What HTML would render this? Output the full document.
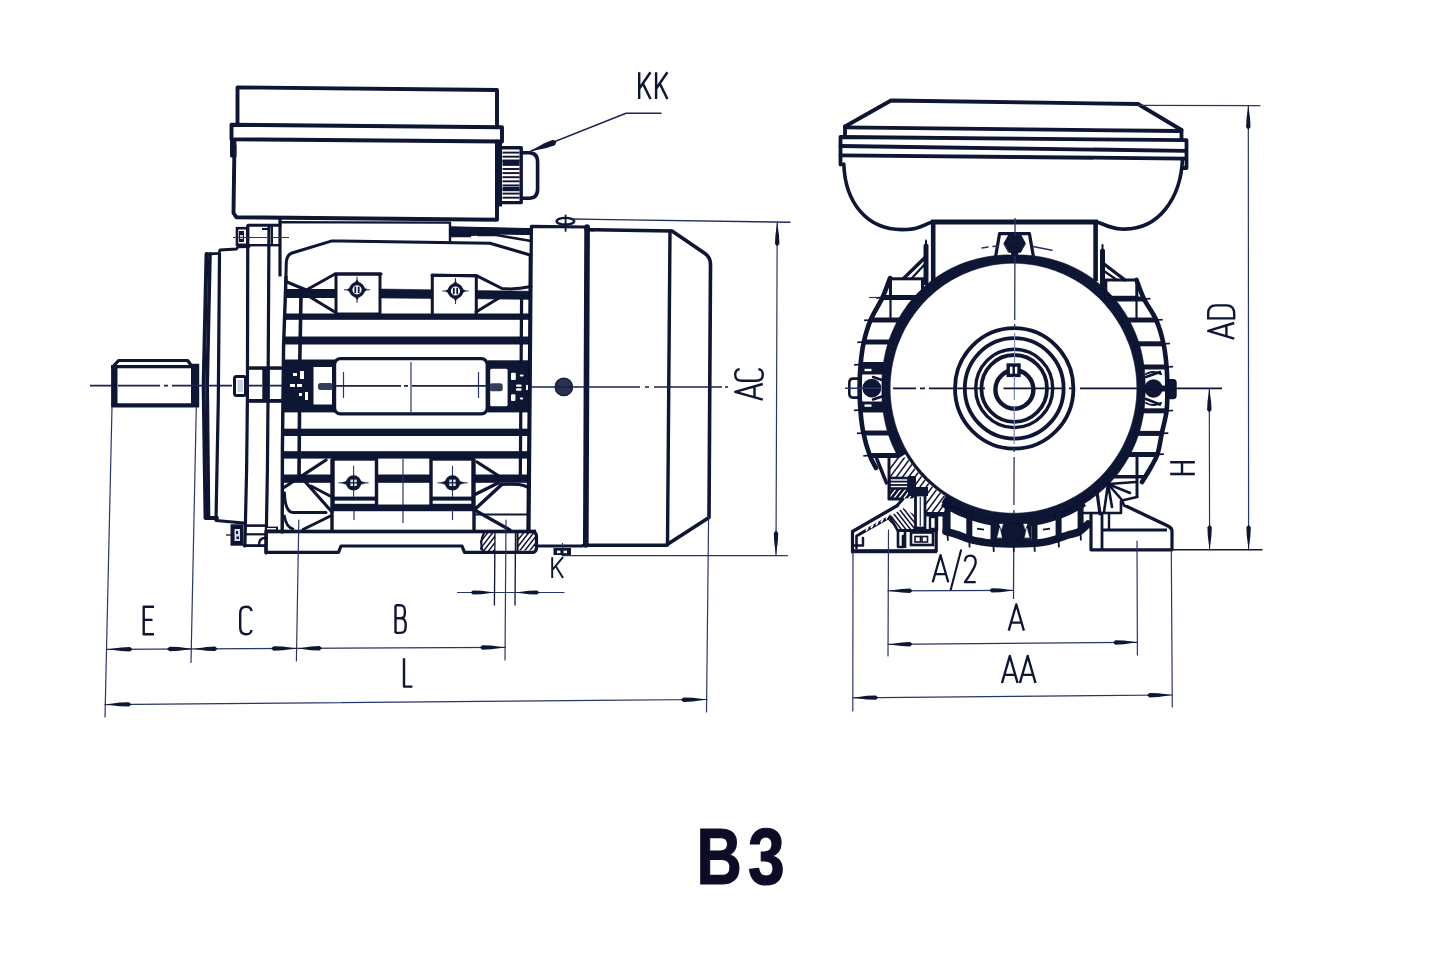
<!DOCTYPE html>
<html><head><meta charset="utf-8"><title>B3</title>
<style>
html,body{margin:0;padding:0;background:#fff;}
body{width:1445px;height:974px;overflow:hidden;font-family:"Liberation Sans",sans-serif;}
svg{display:block;}
</style></head><body>
<svg width="1445" height="974" viewBox="0 0 1445 974">
<rect x="0" y="0" width="1445" height="974" fill="#ffffff"/>
<g filter="url(#soft)">
<polyline points="237.5,125 237.5,87.4 497,90 497,127" fill="none" stroke="#0e1233" stroke-width="3.9" stroke-linejoin="round" stroke-linecap="round" />
<polygon points="231.5,124.8 502,127.2 502,141.5 231.5,139.2" fill="none" stroke="#0e1233" stroke-width="3.9" stroke-linejoin="round" stroke-linecap="round" />
<polygon points="231.5,140 231.5,156 235,156 235,146" fill="#0e1233" stroke="#0e1233" stroke-width="3" stroke-linejoin="round" stroke-linecap="round" />
<polyline points="234.5,141 233.5,213 236.5,217.3 497,219.8 497,141.5" fill="none" stroke="#0e1233" stroke-width="3.9" stroke-linejoin="round" stroke-linecap="round" />
<rect x="495" y="143" width="7" height="63.5" fill="#0e1233"/>
<path d="M502,147.8 H521.2 V202.6 H502" fill="none" stroke="#0e1233" stroke-width="3.4" stroke-linejoin="round" stroke-linecap="round" />
<line x1="502.5" y1="152.6" x2="519.5" y2="152.6" stroke="#0e1233" stroke-width="1.9" stroke-linecap="butt" />
<line x1="502.5" y1="156.7" x2="519.5" y2="156.7" stroke="#0e1233" stroke-width="1.9" stroke-linecap="butt" />
<line x1="502.5" y1="160.8" x2="519.5" y2="160.8" stroke="#0e1233" stroke-width="1.9" stroke-linecap="butt" />
<line x1="502.5" y1="164.9" x2="519.5" y2="164.9" stroke="#0e1233" stroke-width="1.9" stroke-linecap="butt" />
<line x1="502.5" y1="169" x2="519.5" y2="169" stroke="#0e1233" stroke-width="1.9" stroke-linecap="butt" />
<line x1="502.5" y1="173.1" x2="519.5" y2="173.1" stroke="#0e1233" stroke-width="1.9" stroke-linecap="butt" />
<line x1="502.5" y1="177.2" x2="519.5" y2="177.2" stroke="#0e1233" stroke-width="1.9" stroke-linecap="butt" />
<line x1="502.5" y1="181.3" x2="519.5" y2="181.3" stroke="#0e1233" stroke-width="1.9" stroke-linecap="butt" />
<line x1="502.5" y1="185.4" x2="519.5" y2="185.4" stroke="#0e1233" stroke-width="1.9" stroke-linecap="butt" />
<line x1="502.5" y1="189.5" x2="519.5" y2="189.5" stroke="#0e1233" stroke-width="1.9" stroke-linecap="butt" />
<line x1="502.5" y1="193.6" x2="519.5" y2="193.6" stroke="#0e1233" stroke-width="1.9" stroke-linecap="butt" />
<line x1="502.5" y1="197.7" x2="519.5" y2="197.7" stroke="#0e1233" stroke-width="1.9" stroke-linecap="butt" />
<rect x="502.5" y="159.6" width="17" height="4.4" fill="#0e1233"/>
<rect x="502.5" y="186.8" width="17" height="4.4" fill="#0e1233"/>
<path d="M522.6,152.7 H529 Q537.6,152.7 537.6,162 V189 Q537.6,198.2 529,198.2 H522.6" fill="none" stroke="#0e1233" stroke-width="3.6" stroke-linejoin="round" stroke-linecap="round" />
<polyline points="661,113.2 626,113.2 531,151" fill="none" stroke="#1e2756" stroke-width="1.5" stroke-linejoin="round" stroke-linecap="round" />
<polygon points="530.3,151.3 545.6,148.3 555,145.3 556.5,141.5 552.9,139.7 543.8,143.5" fill="#0e1233"/>
<g transform="translate(639.2,72.2)" fill="none" stroke="#0e1233" stroke-width="2.4" stroke-linecap="butt" stroke-linejoin="round"><path transform="translate(0,0)" d="M0,0 V26.8 M11.3,0 L0,16.6 M3.4,10.7 L11.3,26.8"/><path transform="translate(16.9,0)" d="M0,0 V26.8 M11.3,0 L0,16.6 M3.4,10.7 L11.3,26.8"/></g>
<line x1="280" y1="218" x2="280" y2="276.5" stroke="#0e1233" stroke-width="3.2" stroke-linecap="butt" />
<polyline points="280,222.2 450,222.6 450,241" fill="none" stroke="#0e1233" stroke-width="2.4" stroke-linejoin="round" stroke-linecap="round" />
<polygon points="450,226.8 531,228.6 531,234.6 496,234 450,236.8" fill="#0e1233" stroke="#0e1233" stroke-width="1" stroke-linejoin="round" stroke-linecap="round" />
<polyline points="478,235 496,235 531,241" fill="none" stroke="#0e1233" stroke-width="2.4" stroke-linejoin="round" stroke-linecap="round" />
<polyline points="450,236 470,236" fill="none" stroke="#0e1233" stroke-width="2.4" stroke-linejoin="round" stroke-linecap="round" />
<path d="M285.8,283 L286.3,262 Q286.8,255 292,253 L332,240.9 L490,243.2 L531,255.2" fill="none" stroke="#0e1233" stroke-width="3" stroke-linejoin="round" stroke-linecap="round" />
<path d="M285.6,281.5 Q294,285 306.4,290 L335,274 H381 M432,275.2 L477,275.8 L502,288.5 Q515,290 531,286.5" fill="none" stroke="#0e1233" stroke-width="3" stroke-linejoin="round" stroke-linecap="round" />
<polyline points="306,294.5 334,311.5" fill="none" stroke="#0e1233" stroke-width="3.2" stroke-linejoin="round" stroke-linecap="round" />
<polyline points="476,312 503,295.5" fill="none" stroke="#0e1233" stroke-width="3" stroke-linejoin="round" stroke-linecap="round" />
<rect x="336" y="274" width="44" height="40" rx="0" fill="none" stroke="#0e1233" stroke-width="3"/>
<polyline points="432.3,313.5 432.3,275.2 476.3,275.8 476.3,314" fill="none" stroke="#0e1233" stroke-width="3" stroke-linejoin="round" stroke-linecap="round" />
<rect x="285.5" y="289" width="50.5" height="9" fill="#0e1233"/>
<polygon points="380,289 432.5,289.8 432.5,298.6 380,298" fill="#0e1233" stroke="#0e1233" stroke-width="0.5" stroke-linejoin="round" stroke-linecap="round" />
<polygon points="476,290.4 531,291.2 531,299.4 476,298.8" fill="#0e1233" stroke="#0e1233" stroke-width="0.5" stroke-linejoin="round" stroke-linecap="round" />
<rect x="284.8" y="313.5" width="246.2" height="6.3" fill="#0e1233"/>
<rect x="284" y="336.5" width="247" height="8" fill="#0e1233"/>
<polyline points="286,277 283.6,345 282.4,450 282.2,532" fill="none" stroke="#0e1233" stroke-width="3.4" stroke-linejoin="round" stroke-linecap="round" />
<polyline points="301,296 299.8,360" fill="none" stroke="#0e1233" stroke-width="3.6" stroke-linejoin="round" stroke-linecap="round" />
<polyline points="299.5,413 299,476" fill="none" stroke="#0e1233" stroke-width="3.6" stroke-linejoin="round" stroke-linecap="round" />
<polyline points="521.6,297 520.3,478" fill="none" stroke="#0e1233" stroke-width="3.2" stroke-linejoin="round" stroke-linecap="round" />
<polyline points="530,256 529,388 527.6,533" fill="none" stroke="#0e1233" stroke-width="2.6" stroke-linejoin="round" stroke-linecap="round" />
<line x1="344" y1="289.8" x2="370" y2="289.8" stroke="#2a3468" stroke-width="1.1" stroke-linecap="butt" />
<line x1="357" y1="276.8" x2="357" y2="302.8" stroke="#2a3468" stroke-width="1.1" stroke-linecap="butt" />
<polygon points="366.8,289.8 363,292.4 363,287.2" fill="#0e1233" stroke="#0e1233" stroke-width="0.5" stroke-linejoin="round" stroke-linecap="round" />
<polygon points="347.2,289.8 351,287.2 351,292.4" fill="#0e1233" stroke="#0e1233" stroke-width="0.5" stroke-linejoin="round" stroke-linecap="round" />
<polygon points="357,299.6 354.4,295.8 359.6,295.8" fill="#0e1233" stroke="#0e1233" stroke-width="0.5" stroke-linejoin="round" stroke-linecap="round" />
<polygon points="357,280 359.6,283.8 354.4,283.8" fill="#0e1233" stroke="#0e1233" stroke-width="0.5" stroke-linejoin="round" stroke-linecap="round" />
<circle cx="357" cy="289.8" r="6.2" fill="#fff" stroke="#0e1233" stroke-width="3.2"/>
<rect x="354.4" y="286.6" width="1.8" height="6.4" fill="#0e1233"/>
<rect x="357.8" y="286.6" width="1.8" height="6.4" fill="#0e1233"/>
<line x1="442.5" y1="291" x2="468.5" y2="291" stroke="#2a3468" stroke-width="1.1" stroke-linecap="butt" />
<line x1="455.5" y1="278" x2="455.5" y2="304" stroke="#2a3468" stroke-width="1.1" stroke-linecap="butt" />
<polygon points="465.3,291 461.5,293.6 461.5,288.4" fill="#0e1233" stroke="#0e1233" stroke-width="0.5" stroke-linejoin="round" stroke-linecap="round" />
<polygon points="445.7,291 449.5,288.4 449.5,293.6" fill="#0e1233" stroke="#0e1233" stroke-width="0.5" stroke-linejoin="round" stroke-linecap="round" />
<polygon points="455.5,300.8 452.9,297 458.1,297" fill="#0e1233" stroke="#0e1233" stroke-width="0.5" stroke-linejoin="round" stroke-linecap="round" />
<polygon points="455.5,281.2 458.1,285 452.9,285" fill="#0e1233" stroke="#0e1233" stroke-width="0.5" stroke-linejoin="round" stroke-linecap="round" />
<circle cx="455.5" cy="291" r="6.2" fill="#fff" stroke="#0e1233" stroke-width="3.2"/>
<rect x="452.9" y="287.8" width="1.8" height="6.4" fill="#0e1233"/>
<rect x="456.3" y="287.8" width="1.8" height="6.4" fill="#0e1233"/>
<line x1="338.6" y1="482.8" x2="368.6" y2="482.8" stroke="#2a3468" stroke-width="1.1" stroke-linecap="butt" />
<line x1="353.6" y1="465.8" x2="353.6" y2="496.8" stroke="#2a3468" stroke-width="1.1" stroke-linecap="butt" />
<polygon points="342.1,482.8 347.6,480.8 347.6,484.8" fill="#0e1233" stroke="#0e1233" stroke-width="0.5" stroke-linejoin="round" stroke-linecap="round" />
<polygon points="365.1,482.8 359.6,480.8 359.6,484.8" fill="#0e1233" stroke="#0e1233" stroke-width="0.5" stroke-linejoin="round" stroke-linecap="round" />
<circle cx="353.6" cy="482.8" r="7.6" fill="#0e1233" stroke="none" stroke-width="0"/>
<rect x="350.4" y="479.6" width="2.6" height="2.6" fill="#dfe3f5"/>
<rect x="354.2" y="479.6" width="2.6" height="2.6" fill="#dfe3f5"/>
<rect x="350.4" y="483.4" width="2.6" height="2.6" fill="#dfe3f5"/>
<rect x="354.2" y="483.4" width="2.6" height="2.6" fill="#dfe3f5"/>
<line x1="437.5" y1="482.8" x2="467.5" y2="482.8" stroke="#2a3468" stroke-width="1.1" stroke-linecap="butt" />
<line x1="452.5" y1="465.8" x2="452.5" y2="496.8" stroke="#2a3468" stroke-width="1.1" stroke-linecap="butt" />
<polygon points="441,482.8 446.5,480.8 446.5,484.8" fill="#0e1233" stroke="#0e1233" stroke-width="0.5" stroke-linejoin="round" stroke-linecap="round" />
<polygon points="464,482.8 458.5,480.8 458.5,484.8" fill="#0e1233" stroke="#0e1233" stroke-width="0.5" stroke-linejoin="round" stroke-linecap="round" />
<circle cx="452.5" cy="482.8" r="7.6" fill="#0e1233" stroke="none" stroke-width="0"/>
<rect x="449.3" y="479.6" width="2.6" height="2.6" fill="#dfe3f5"/>
<rect x="453.1" y="479.6" width="2.6" height="2.6" fill="#dfe3f5"/>
<rect x="449.3" y="483.4" width="2.6" height="2.6" fill="#dfe3f5"/>
<rect x="453.1" y="483.4" width="2.6" height="2.6" fill="#dfe3f5"/>
<rect x="283" y="359.5" width="52" height="52.9" fill="#0e1233"/>
<rect x="313.5" y="367" width="18.5" height="37.5" fill="#fff"/>
<rect x="318" y="383" width="15" height="7" rx="2.5" fill="#363c58" stroke="none" stroke-width="0"/>
<rect x="293" y="373" width="4" height="3" fill="#fff"/>
<rect x="300" y="371" width="4" height="8" fill="#fff"/>
<rect x="290" y="384" width="5" height="3" fill="#fff"/>
<rect x="297" y="384" width="5" height="3" fill="#fff"/>
<rect x="299" y="393" width="3" height="3" fill="#fff"/>
<rect x="305" y="392" width="3" height="8" fill="#fff"/>
<rect x="488" y="360.3" width="43" height="52.1" fill="#0e1233"/>
<rect x="490.2" y="368.8" width="17.4" height="37.5" rx="1.5" fill="#fff" stroke="none" stroke-width="0"/>
<rect x="489.5" y="383.2" width="13.2" height="8" rx="2.5" fill="#363c58" stroke="none" stroke-width="0"/>
<rect x="511" y="372.7" width="4.8" height="7.2" rx="1" fill="#fff" stroke="none" stroke-width="0"/>
<rect x="519.8" y="374.6" width="3.8" height="2" rx="1" fill="#fff" stroke="none" stroke-width="0"/>
<rect x="516" y="384.4" width="5.6" height="2.4" rx="1" fill="#fff" stroke="none" stroke-width="0"/>
<rect x="516" y="388.3" width="5.6" height="2.4" rx="1" fill="#fff" stroke="none" stroke-width="0"/>
<rect x="526" y="384.8" width="2" height="5.4" rx="1" fill="#fff" stroke="none" stroke-width="0"/>
<rect x="511" y="394.2" width="4.4" height="6.8" rx="1" fill="#fff" stroke="none" stroke-width="0"/>
<rect x="519.8" y="397.6" width="3.4" height="2" rx="1" fill="#fff" stroke="none" stroke-width="0"/>
<rect x="334.5" y="358.6" width="152.8" height="55.3" rx="6" fill="#fff" stroke="#0e1233" stroke-width="3.4"/>
<line x1="411" y1="362" x2="411" y2="412" stroke="#2a3468" stroke-width="1.2" stroke-linecap="butt" />
<line x1="343.5" y1="372" x2="343.5" y2="398" stroke="#2a3468" stroke-width="1.2" stroke-linecap="butt" />
<line x1="478.5" y1="372" x2="478.5" y2="398" stroke="#2a3468" stroke-width="1.2" stroke-linecap="butt" />
<rect x="284" y="428.7" width="247" height="7.3" fill="#0e1233"/>
<rect x="284" y="451.2" width="247" height="7.4" fill="#0e1233"/>
<rect x="284" y="474.5" width="47.5" height="8.3" fill="#0e1233"/>
<rect x="376.5" y="474.5" width="54.5" height="8.3" fill="#0e1233"/>
<rect x="473" y="474.5" width="58" height="8.3" fill="#0e1233"/>
<rect x="333" y="459" width="43.5" height="46.5" rx="0" fill="none" stroke="#0e1233" stroke-width="3.4"/>
<rect x="431" y="459" width="42" height="46.5" rx="0" fill="none" stroke="#0e1233" stroke-width="3.4"/>
<rect x="331.5" y="504.5" width="143.5" height="6.7" fill="#0e1233"/>
<rect x="334" y="496.6" width="42" height="4" fill="#0e1233"/>
<rect x="431" y="496.6" width="42" height="4" fill="#0e1233"/>
<line x1="403" y1="459" x2="403" y2="505" stroke="#2a3468" stroke-width="1.2" stroke-linecap="butt" />
<line x1="403" y1="511" x2="403" y2="523" stroke="#2a3468" stroke-width="1.2" stroke-linecap="butt" />
<line x1="354" y1="511" x2="354" y2="520" stroke="#2a3468" stroke-width="1.2" stroke-linecap="butt" />
<line x1="452.5" y1="511" x2="452.5" y2="520" stroke="#2a3468" stroke-width="1.2" stroke-linecap="butt" />
<polyline points="284,487.5 326,460" fill="none" stroke="#0e1233" stroke-width="3.2" stroke-linejoin="round" stroke-linecap="round" />
<polyline points="301,477 332,512" fill="none" stroke="#0e1233" stroke-width="3.2" stroke-linejoin="round" stroke-linecap="round" />
<polyline points="311,486 332,497" fill="none" stroke="#0e1233" stroke-width="3" stroke-linejoin="round" stroke-linecap="round" />
<polyline points="303,529.5 331.5,515.5" fill="none" stroke="#0e1233" stroke-width="3" stroke-linejoin="round" stroke-linecap="round" />
<path d="M284.5,493 Q285,512 293,512.5 H326" fill="none" stroke="#0e1233" stroke-width="3" stroke-linejoin="round" stroke-linecap="round" />
<path d="M284.5,516 Q286,527 293,529" fill="none" stroke="#0e1233" stroke-width="2.6" stroke-linejoin="round" stroke-linecap="round" />
<line x1="332" y1="459" x2="332" y2="531" stroke="#0e1233" stroke-width="3.4" stroke-linecap="butt" />
<polyline points="477,462 498,475.5" fill="none" stroke="#0e1233" stroke-width="3.2" stroke-linejoin="round" stroke-linecap="round" />
<polyline points="475.5,494.3 497.6,483.2" fill="none" stroke="#0e1233" stroke-width="3.2" stroke-linejoin="round" stroke-linecap="round" />
<polyline points="475.5,508.7 502,484.3" fill="none" stroke="#0e1233" stroke-width="3.4" stroke-linejoin="round" stroke-linecap="round" />
<path d="M500,484.5 Q510,484 519,484.5 Q524,485 528,487.5" fill="none" stroke="#0e1233" stroke-width="3" stroke-linejoin="round" stroke-linecap="round" />
<polyline points="474.6,510 510,530" fill="none" stroke="#0e1233" stroke-width="3.2" stroke-linejoin="round" stroke-linecap="round" />
<line x1="474" y1="459" x2="474" y2="531" stroke="#0e1233" stroke-width="3.4" stroke-linecap="butt" />
<line x1="474" y1="514.5" x2="529" y2="514.5" stroke="#0e1233" stroke-width="2.2" stroke-linecap="butt" />
<rect x="266" y="529.7" width="270" height="3.6" fill="#0e1233"/>
<path d="M266,537 V552.3 H338.5 L341,546 H462 L464.5,552.3 H533 Q536,552 536.5,548 V536 Q536,531.5 532,531.3" fill="none" stroke="#0e1233" stroke-width="3.2" stroke-linejoin="round" stroke-linecap="round" />
<polyline points="266,531 266,538" fill="none" stroke="#0e1233" stroke-width="3.2" stroke-linejoin="round" stroke-linecap="round" />
<clipPath id="h1"><rect x="480" y="533" width="15" height="18.5"/></clipPath>
<clipPath id="h2"><path d="M517.5,533 H535 V550.5 H517.5 Z"/></clipPath>
<g clip-path="url(#h1)"><line x1="472" y1="553" x2="489" y2="531" stroke="#0e1233" stroke-width="1.5"/><line x1="477" y1="553" x2="494" y2="531" stroke="#0e1233" stroke-width="1.5"/><line x1="482" y1="553" x2="499" y2="531" stroke="#0e1233" stroke-width="1.5"/><line x1="487" y1="553" x2="504" y2="531" stroke="#0e1233" stroke-width="1.5"/><line x1="492" y1="553" x2="509" y2="531" stroke="#0e1233" stroke-width="1.5"/><line x1="497" y1="553" x2="514" y2="531" stroke="#0e1233" stroke-width="1.5"/><line x1="502" y1="553" x2="519" y2="531" stroke="#0e1233" stroke-width="1.5"/><line x1="507" y1="553" x2="524" y2="531" stroke="#0e1233" stroke-width="1.5"/></g>
<g clip-path="url(#h2)"><line x1="508" y1="553" x2="525" y2="531" stroke="#0e1233" stroke-width="1.5"/><line x1="513" y1="553" x2="530" y2="531" stroke="#0e1233" stroke-width="1.5"/><line x1="518" y1="553" x2="535" y2="531" stroke="#0e1233" stroke-width="1.5"/><line x1="523" y1="553" x2="540" y2="531" stroke="#0e1233" stroke-width="1.5"/><line x1="528" y1="553" x2="545" y2="531" stroke="#0e1233" stroke-width="1.5"/><line x1="533" y1="553" x2="550" y2="531" stroke="#0e1233" stroke-width="1.5"/><line x1="538" y1="553" x2="555" y2="531" stroke="#0e1233" stroke-width="1.5"/><line x1="543" y1="553" x2="560" y2="531" stroke="#0e1233" stroke-width="1.5"/></g>
<path d="M484,533 Q479,542 483,552" fill="none" stroke="#0e1233" stroke-width="2.2" stroke-linejoin="round" stroke-linecap="round" />
<line x1="495" y1="533" x2="494.4" y2="605.5" stroke="#0e1233" stroke-width="1.3" stroke-linecap="butt" />
<line x1="515.5" y1="533" x2="515" y2="605.5" stroke="#0e1233" stroke-width="1.3" stroke-linecap="butt" />
<line x1="517.5" y1="533" x2="517.5" y2="552" stroke="#0e1233" stroke-width="2.2" stroke-linecap="butt" />
<polyline points="206.5,254 203.6,385 205.5,518 217,518" fill="none" stroke="#0e1233" stroke-width="3.9" stroke-linejoin="round" stroke-linecap="round" />
<polyline points="210,254 207.2,385 208.5,516" fill="none" stroke="#0e1233" stroke-width="3.6" stroke-linejoin="round" stroke-linecap="round" />
<polyline points="206.5,254 219,253.3 220,250 236.5,249 238,246.8 249,246.5" fill="none" stroke="#0e1233" stroke-width="2.8" stroke-linejoin="round" stroke-linecap="round" />
<polyline points="219.5,254 218.3,400 216,520.5 243.5,523" fill="none" stroke="#0e1233" stroke-width="3.2" stroke-linejoin="round" stroke-linecap="round" />
<polyline points="247.8,226 247.4,400 246.6,470 244.9,546" fill="none" stroke="#0e1233" stroke-width="3.2" stroke-linejoin="round" stroke-linecap="round" />
<polyline points="269,226 268,400 267.4,470 266,553" fill="none" stroke="#0e1233" stroke-width="3.2" stroke-linejoin="round" stroke-linecap="round" />
<line x1="272" y1="226" x2="272" y2="246" stroke="#0e1233" stroke-width="2" stroke-linecap="butt" />
<polyline points="248,225.2 280,225.2" fill="none" stroke="#0e1233" stroke-width="3" stroke-linejoin="round" stroke-linecap="round" />
<rect x="237" y="228.2" width="10.5" height="16.6" rx="0" fill="none" stroke="#0e1233" stroke-width="2.6"/>
<rect x="239" y="231" width="5" height="11" fill="#0e1233"/>
<rect x="240" y="235" width="3" height="4" fill="#c9cfe6"/>
<line x1="249" y1="245.2" x2="280" y2="245.2" stroke="#0e1233" stroke-width="2.4" stroke-linecap="butt" />
<line x1="262" y1="229" x2="268" y2="229" stroke="#0e1233" stroke-width="2" stroke-linecap="butt" />
<line x1="233" y1="237.5" x2="289" y2="237.5" stroke="#2a3468" stroke-width="1.1" stroke-linecap="butt" />
<rect x="234.5" y="376.5" width="11" height="19" rx="2" fill="none" stroke="#0e1233" stroke-width="3"/>
<rect x="237.5" y="380" width="5.5" height="12" fill="#c9cfe6"/>
<rect x="246" y="366.3" width="37" height="3.5" fill="#0e1233"/>
<rect x="246" y="399" width="37" height="3.8" fill="#0e1233"/>
<rect x="262.3" y="367" width="7.3" height="35" fill="#0e1233"/>
<rect x="232" y="525.8" width="10" height="18.4" rx="0" fill="#0e1233" stroke="#0e1233" stroke-width="3"/>
<rect x="234.5" y="529" width="5.5" height="12" fill="#d5d9ee"/>
<rect x="236" y="531" width="2" height="3" fill="#0e1233"/>
<rect x="236.5" y="536.5" width="2.5" height="2.5" fill="#0e1233"/>
<line x1="244" y1="525.6" x2="266" y2="525.6" stroke="#0e1233" stroke-width="2.6" stroke-linecap="butt" />
<line x1="244" y1="534.3" x2="266" y2="534.3" stroke="#0e1233" stroke-width="2.2" stroke-linecap="butt" />
<line x1="243" y1="545.6" x2="266" y2="545.6" stroke="#0e1233" stroke-width="2.8" stroke-linecap="butt" />
<rect x="265" y="526.6" width="13" height="4.4" fill="#0e1233"/>
<rect x="267" y="528" width="9" height="1.4" fill="#fff"/>
<path d="M259,545 Q259,538 265,538" fill="none" stroke="#0e1233" stroke-width="2.4" stroke-linejoin="round" stroke-linecap="round" />
<line x1="226" y1="535" x2="232" y2="535" stroke="#0e1233" stroke-width="1.3" stroke-linecap="butt" />
<path d="M112.6,367 L118.6,360.5 H187.6 L191,365" fill="none" stroke="#0e1233" stroke-width="3.2" stroke-linejoin="round" stroke-linecap="round" />
<line x1="113" y1="366.6" x2="191" y2="366.6" stroke="#0e1233" stroke-width="3.2" stroke-linecap="butt" />
<line x1="114.3" y1="365" x2="114.3" y2="406" stroke="#0e1233" stroke-width="6.4" stroke-linecap="butt" />
<line x1="111.2" y1="405.4" x2="199" y2="405.4" stroke="#0e1233" stroke-width="4.4" stroke-linecap="butt" />
<rect x="191" y="363.8" width="8.2" height="43.2" fill="#0e1233"/>
<polyline points="529,531 530.2,388 531.4,226.3 586,227" fill="none" stroke="#0e1233" stroke-width="3.2" stroke-linejoin="round" stroke-linecap="round" />
<line x1="537" y1="546" x2="583.5" y2="546" stroke="#0e1233" stroke-width="3.2" stroke-linecap="butt" />
<path d="M586,229.7 L672,231 L705,253.5 Q710.5,257.5 710.5,264 L709,517.5 L666,545.3 H583.5" fill="none" stroke="#0e1233" stroke-width="3.6" stroke-linejoin="round" stroke-linecap="round" />
<polyline points="587.1,227 585.8,545" fill="none" stroke="#0e1233" stroke-width="5.6" stroke-linejoin="round" stroke-linecap="round" />
<polyline points="670,231 667.5,545" fill="none" stroke="#0e1233" stroke-width="3.4" stroke-linejoin="round" stroke-linecap="round" />
<circle cx="563.8" cy="386.9" r="9.2" fill="#2a3049" stroke="none" stroke-width="0"/>
<circle cx="563.8" cy="386.9" r="8.6" fill="none" stroke="#1d2340" stroke-width="1.4"/>
<ellipse cx="565.4" cy="221.2" rx="8.8" ry="3.3" fill="none" stroke="#0e1233" stroke-width="2.4"/>
<line x1="565.6" y1="214.6" x2="565.6" y2="231.7" stroke="#0e1233" stroke-width="1.8" stroke-linecap="butt" />
<rect x="553.5" y="548" width="17.5" height="7" fill="#0e1233"/>
<rect x="557" y="550.6" width="3.4" height="2.6" fill="#fff"/>
<rect x="563.6" y="550.6" width="3.4" height="2.6" fill="#fff"/>
<line x1="562.5" y1="543" x2="562.5" y2="549" stroke="#2a3468" stroke-width="1.1" stroke-linecap="butt" />
<path d="M90,385.6 H112 M118,385.6 H160 M164,385.6 H168 M172,385.6 H232 M246,385.6 H262 M270,385.6 H283 M335,385.9 H401 M404,385.9 H408 M412,385.9 H486 M531,387 H640 M645,387 H649 M654,387 H722 M725,387 H728" fill="none" stroke="#1a2150" stroke-width="1.6"/>
<polyline points="572,219 790,222.3" fill="none" stroke="#222c60" stroke-width="1.4" stroke-linejoin="round" stroke-linecap="round" />
<polyline points="562,555.6 787.5,555.6" fill="none" stroke="#2a3468" stroke-width="1.2" stroke-linejoin="round" stroke-linecap="round" />
<polyline points="777.2,222 776,555.5" fill="none" stroke="#2a3468" stroke-width="1.2" stroke-linejoin="round" stroke-linecap="round" />
<polygon points="777.2,222.3 775.4,235.5 775,243.9 777.2,246.3 779.4,243.9 779,235.5" fill="#0e1233"/>
<polygon points="776,555.4 777.8,541.6 778.2,532.9 776,530.4 773.8,532.9 774.2,541.6" fill="#0e1233"/>
<g transform="translate(735.2,399.6) rotate(-90)" fill="none" stroke="#0e1233" stroke-width="2.4" stroke-linecap="butt" stroke-linejoin="round"><path transform="translate(0,0)" d="M0,27.6 L7.8,0 L15.6,27.6 M2.7,19.3 H12.9"/><path transform="translate(18.8,0)" d="M11.6,4.4 C11.6,1.7 9.3,0 6.4,0 C1.7,0 0,2.2 0,6.9 V20.7 C0,25.4 1.7,27.6 6.4,27.6 C9.3,27.6 11.6,25.9 11.6,23.2"/></g>
<polyline points="112,407 105,717" fill="none" stroke="#2a3468" stroke-width="1.2" stroke-linejoin="round" stroke-linecap="round" />
<polyline points="196.3,407 191,662.5" fill="none" stroke="#2a3468" stroke-width="1.2" stroke-linejoin="round" stroke-linecap="round" />
<polyline points="298.8,520 296.4,661" fill="none" stroke="#2a3468" stroke-width="1.2" stroke-linejoin="round" stroke-linecap="round" />
<polyline points="506,520 505,660" fill="none" stroke="#2a3468" stroke-width="1.2" stroke-linejoin="round" stroke-linecap="round" />
<polyline points="708.6,517 706.5,712" fill="none" stroke="#2a3468" stroke-width="1.2" stroke-linejoin="round" stroke-linecap="round" />
<polyline points="107,649.3 505.5,647.4" fill="none" stroke="#2a3468" stroke-width="1.2" stroke-linejoin="round" stroke-linecap="round" />
<polygon points="107.5,649.3 121.3,651.1 130,651.4 132.5,649.2 130,647 121.2,647.4" fill="#0e1233"/>
<polygon points="193,648.9 178.7,647.1 169.6,646.8 167,649 169.6,651.2 178.7,650.8" fill="#0e1233"/>
<polygon points="193.5,648.9 206.7,650.7 215.1,651 217.5,648.8 215.1,646.6 206.7,647" fill="#0e1233"/>
<polygon points="297,648.4 282.7,646.6 273.6,646.3 271,648.5 273.6,650.7 282.7,650.3" fill="#0e1233"/>
<polygon points="298,648.4 311.2,650.2 319.6,650.5 322,648.3 319.6,646.1 311.2,646.5" fill="#0e1233"/>
<polygon points="504.8,647.4 491,645.6 482.3,645.3 479.8,647.5 482.3,649.7 491.1,649.3" fill="#0e1233"/>
<g transform="translate(143.7,606.7)" fill="none" stroke="#0e1233" stroke-width="2.4" stroke-linecap="butt" stroke-linejoin="round"><path transform="translate(0,0)" d="M10.3,0 H0 V27.6 H10.3 M0,13.2 H8.8"/></g>
<g transform="translate(240.2,606.7)" fill="none" stroke="#0e1233" stroke-width="2.4" stroke-linecap="butt" stroke-linejoin="round"><path transform="translate(0,0)" d="M11.2,4.4 C11.2,1.7 9,0 6.2,0 C1.7,0 0,2.2 0,6.9 V20.7 C0,25.4 1.7,27.6 6.2,27.6 C9,27.6 11.2,25.9 11.2,23.2"/></g>
<g transform="translate(395.5,605.3)" fill="none" stroke="#0e1233" stroke-width="2.4" stroke-linecap="butt" stroke-linejoin="round"><path transform="translate(0,0)" d="M0,0 V27.6 M0,0 H4.6 C8.7,0 9.4,2.2 9.4,6.6 C9.4,11 8.7,13 4.6,13 H0 M4.6,13 C9.2,13 10.2,15.5 10.2,20.1 C10.2,25.4 9.2,27.6 4.6,27.6 H0"/></g>
<polyline points="105,704.6 707,699.5" fill="none" stroke="#2a3468" stroke-width="1.2" stroke-linejoin="round" stroke-linecap="round" />
<polygon points="105.5,704.6 119.8,706.3 128.9,706.6 131.5,704.4 128.9,702.2 119.8,702.6" fill="#0e1233"/>
<polygon points="706.8,699.5 692.5,697.8 683.4,697.5 680.8,699.7 683.4,701.9 692.5,701.5" fill="#0e1233"/>
<g transform="translate(404,658.2)" fill="none" stroke="#0e1233" stroke-width="2.4" stroke-linecap="butt" stroke-linejoin="round"><path transform="translate(0,0)" d="M0,0 V28.4 H8.4"/></g>
<polyline points="457.5,592.5 564,592.5" fill="none" stroke="#2a3468" stroke-width="1.2" stroke-linejoin="round" stroke-linecap="round" />
<polygon points="494.5,592.5 481.3,590.7 472.9,590.4 470.5,592.5 472.9,594.6 481.3,594.3" fill="#0e1233"/>
<polygon points="515.5,592.5 528.7,594.3 537.1,594.6 539.5,592.5 537.1,590.4 528.7,590.7" fill="#0e1233"/>
<g transform="translate(552.2,557.2)" fill="none" stroke="#0e1233" stroke-width="1.9" stroke-linecap="butt" stroke-linejoin="round"><path transform="translate(0,0)" d="M0,0 V20.8 M10.8,0 L0,12.9 M3.2,8.3 L10.8,20.8"/></g>
<polyline points="845,126.5 891,100.5 1138,104 1181.5,130" fill="none" stroke="#0e1233" stroke-width="3.8" stroke-linejoin="round" stroke-linecap="round" />
<polyline points="845,127.3 1179,131" fill="none" stroke="#0e1233" stroke-width="3.8" stroke-linejoin="round" stroke-linecap="round" />
<polyline points="845,126.5 845,137" fill="none" stroke="#0e1233" stroke-width="3.8" stroke-linejoin="round" stroke-linecap="round" />
<polyline points="1181.5,130 1181.5,140" fill="none" stroke="#0e1233" stroke-width="3.8" stroke-linejoin="round" stroke-linecap="round" />
<polyline points="840.5,164.5 840.5,137 1186.5,140.2 1186.5,168 1182,168" fill="none" stroke="#0e1233" stroke-width="3.8" stroke-linejoin="round" stroke-linecap="round" />
<polyline points="840.5,146 1185,150.8" fill="none" stroke="#0e1233" stroke-width="3.8" stroke-linejoin="round" stroke-linecap="round" />
<polyline points="840.5,155.3 1185,158.6" fill="none" stroke="#0e1233" stroke-width="3.8" stroke-linejoin="round" stroke-linecap="round" />
<path d="M843.8,164 C845,200 865,232 907,229.5 C920,229 924,224.5 932,222" fill="none" stroke="#0e1233" stroke-width="3.6" stroke-linejoin="round" stroke-linecap="round" />
<path d="M1182.5,159 C1181,196 1160,231 1121,229 C1110,228.5 1104,224 1097,222" fill="none" stroke="#0e1233" stroke-width="3.6" stroke-linejoin="round" stroke-linecap="round" />
<rect x="931" y="219.5" width="167" height="5" fill="#0e1233"/>
<line x1="933.2" y1="222" x2="933.2" y2="281" stroke="#0e1233" stroke-width="4.6" stroke-linecap="butt" />
<line x1="1095.6" y1="222" x2="1095.6" y2="281" stroke="#0e1233" stroke-width="4.6" stroke-linecap="butt" />
<path d="M1145.1,388.2 L1145.1,392.9 L1145,397.6 L1144.8,402.2 L1144.4,406.9 L1143.8,411.5 L1143.1,416.1 L1142.2,420.8 L1141.2,425.3 L1140,429.9 L1138.6,434.4 L1137.1,438.8 L1135.4,443.2 L1133.5,447.5 L1131.5,451.8 L1129.4,456 L1127,460.1 L1124.6,464.1 L1121.9,468 L1119.2,471.9 L1116.3,475.6 L1113.2,479.2 L1110,482.7 L1106.7,486 L1103.3,489.2 L1099.7,492.3 L1096.1,495.3 L1092.3,498.1 L1088.4,500.7 L1084.4,503.2 L1080.4,505.6 L1076.3,507.8 L1072,509.8 L1067.8,511.7 L1063.4,513.4 L1059,514.9 L1054.6,516.3 L1050.1,517.6 L1045.6,518.6 L1041,519.5 L1036.5,520.2 L1031.9,520.8 L1027.3,521.2 L1022.7,521.5 L1018.1,521.6 L1013.5,521.5 L1008.9,521.6 L1004.3,521.5 L999.7,521.2 L995.1,520.8 L990.5,520.2 L986,519.5 L981.4,518.6 L976.9,517.6 L972.4,516.3 L968,514.9 L963.6,513.4 L959.2,511.7 L955,509.8 L950.7,507.8 L946.6,505.6 L942.6,503.2 L938.6,500.7 L934.7,498.1 L930.9,495.3 L927.3,492.3 L923.7,489.2 L920.3,486 L917,482.7 L913.8,479.2 L910.7,475.6 L907.8,471.9 L905.1,468 L902.4,464.1 L900,460.1 L897.6,456 L895.5,451.8 L893.5,447.5 L891.6,443.2 L889.9,438.8 L888.4,434.4 L887,429.9 L885.8,425.3 L884.8,420.8 L883.9,416.1 L883.2,411.5 L882.6,406.9 L882.2,402.2 L882,397.6 L881.9,392.9 L881.9,388.2 L881.9,383.6 L882,378.9 L882.2,374.3 L882.6,369.6 L883.2,365 L883.9,360.4 L884.8,355.7 L885.8,351.2 L887,346.6 L888.4,342.1 L889.9,337.7 L891.6,333.3 L893.5,329 L895.5,324.7 L897.6,320.5 L900,316.4 L902.4,312.4 L905.1,308.5 L907.8,304.6 L910.7,300.9 L913.8,297.3 L917,293.8 L920.3,290.5 L923.7,287.3 L927.3,284.2 L930.9,281.2 L934.7,278.4 L938.6,275.8 L942.6,273.3 L946.6,270.9 L950.7,268.7 L955,266.7 L959.2,264.8 L963.6,263.1 L968,261.6 L972.4,260.2 L976.9,258.9 L981.4,257.9 L986,257 L990.5,256.3 L995.1,255.7 L999.7,255.3 L1004.3,255 L1008.9,254.9 L1013.5,254.9 L1018.1,254.9 L1022.7,255 L1027.3,255.3 L1031.9,255.7 L1036.5,256.3 L1041,257 L1045.6,257.9 L1050.1,258.9 L1054.6,260.2 L1059,261.6 L1063.4,263.1 L1067.8,264.8 L1072,266.7 L1076.3,268.7 L1080.4,270.9 L1084.4,273.3 L1088.4,275.8 L1092.3,278.4 L1096.1,281.2 L1099.7,284.2 L1103.3,287.3 L1106.7,290.5 L1110,293.8 L1113.2,297.3 L1116.3,300.9 L1119.2,304.6 L1121.9,308.5 L1124.6,312.4 L1127,316.4 L1129.4,320.5 L1131.5,324.7 L1133.5,329 L1135.4,333.3 L1137.1,337.7 L1138.6,342.1 L1140,346.6 L1141.2,351.2 L1142.2,355.7 L1143.1,360.4 L1143.8,365 L1144.4,369.6 L1144.8,374.3 L1145,378.9 L1145.1,383.6 Z M1136.9,388.2 L1136.8,392.6 L1136.6,397 L1136.2,401.3 L1135.7,405.6 L1135,410 L1134.2,414.2 L1133.2,418.5 L1132.1,422.7 L1130.9,426.9 L1129.5,431 L1127.9,435.1 L1126.2,439.1 L1124.4,443 L1122.5,446.9 L1120.4,450.8 L1118.1,454.5 L1115.8,458.1 L1113.3,461.7 L1110.7,465.2 L1108,468.6 L1105.2,471.9 L1102.3,475.1 L1099.2,478.2 L1096.1,481.1 L1092.8,484 L1089.5,486.8 L1086,489.4 L1082.5,491.9 L1078.9,494.3 L1075.2,496.5 L1071.4,498.6 L1067.6,500.6 L1063.7,502.4 L1059.7,504.1 L1055.7,505.7 L1051.6,507.1 L1047.5,508.4 L1043.4,509.5 L1039.2,510.5 L1034.9,511.4 L1030.7,512 L1026.4,512.6 L1022.1,512.9 L1017.8,513.2 L1013.5,513.2 L1009.2,513.2 L1004.9,512.9 L1000.6,512.6 L996.3,512 L992.1,511.4 L987.8,510.5 L983.6,509.5 L979.5,508.4 L975.4,507.1 L971.3,505.7 L967.3,504.1 L963.3,502.4 L959.4,500.6 L955.6,498.6 L951.8,496.5 L948.1,494.3 L944.5,491.9 L941,489.4 L937.5,486.8 L934.2,484 L930.9,481.1 L927.8,478.2 L924.7,475.1 L921.8,471.9 L919,468.6 L916.3,465.2 L913.7,461.7 L911.2,458.1 L908.9,454.5 L906.6,450.8 L904.5,446.9 L902.6,443 L900.8,439.1 L899.1,435.1 L897.5,431 L896.1,426.9 L894.9,422.7 L893.8,418.5 L892.8,414.2 L892,410 L891.3,405.6 L890.8,401.3 L890.4,397 L890.2,392.6 L890.1,388.2 L890.2,383.9 L890.4,379.5 L890.8,375.2 L891.3,370.9 L892,366.5 L892.8,362.3 L893.8,358 L894.9,353.8 L896.1,349.6 L897.5,345.5 L899.1,341.4 L900.8,337.4 L902.6,333.5 L904.5,329.6 L906.6,325.8 L908.9,322 L911.2,318.4 L913.7,314.8 L916.3,311.3 L919,307.9 L921.8,304.6 L924.7,301.4 L927.8,298.3 L930.9,295.4 L934.2,292.5 L937.5,289.7 L941,287.1 L944.5,284.6 L948.1,282.2 L951.8,280 L955.6,277.9 L959.4,275.9 L963.3,274.1 L967.3,272.4 L971.3,270.8 L975.4,269.4 L979.5,268.1 L983.6,267 L987.8,266 L992.1,265.1 L996.3,264.5 L1000.6,263.9 L1004.9,263.6 L1009.2,263.3 L1013.5,263.2 L1017.8,263.3 L1022.1,263.6 L1026.4,263.9 L1030.7,264.5 L1034.9,265.1 L1039.2,266 L1043.4,267 L1047.5,268.1 L1051.6,269.4 L1055.7,270.8 L1059.7,272.4 L1063.7,274.1 L1067.6,275.9 L1071.4,277.9 L1075.2,280 L1078.9,282.2 L1082.5,284.6 L1086,287.1 L1089.5,289.7 L1092.8,292.5 L1096.1,295.4 L1099.2,298.3 L1102.3,301.4 L1105.2,304.6 L1108,307.9 L1110.7,311.3 L1113.3,314.8 L1115.8,318.4 L1118.1,322 L1120.4,325.7 L1122.5,329.6 L1124.4,333.5 L1126.2,337.4 L1127.9,341.4 L1129.5,345.5 L1130.9,349.6 L1132.1,353.8 L1133.2,358 L1134.2,362.3 L1135,366.5 L1135.7,370.9 L1136.2,375.2 L1136.6,379.5 L1136.8,383.9 Z" fill="#0e1233" fill-rule="evenodd" stroke="#0e1233" stroke-width="0.6"/>
<ellipse cx="1014.2" cy="388.4" rx="59.2" ry="60.2" fill="none" stroke="#0e1233" stroke-width="3.8"/>
<ellipse cx="1014.2" cy="388.4" rx="49.4" ry="50.2" fill="none" stroke="#0e1233" stroke-width="3.8"/>
<ellipse cx="1014.2" cy="388.4" rx="38.5" ry="39.2" fill="none" stroke="#0e1233" stroke-width="3.4"/>
<ellipse cx="1014.2" cy="388.4" rx="32.8" ry="33.4" fill="none" stroke="#0e1233" stroke-width="3.8"/>
<ellipse cx="1014.4" cy="389.5" rx="19" ry="19.2" fill="none" stroke="#0e1233" stroke-width="4.4"/>
<rect x="1008.2" y="365" width="10.8" height="10.4" rx="0" fill="#fff" stroke="#0e1233" stroke-width="3.4"/>
<line x1="1013.7" y1="365" x2="1013.7" y2="375.4" stroke="#0e1233" stroke-width="2.4" stroke-linecap="butt" />
<polyline points="995.6,256.5 999.6,233.6 1029.4,233.6 1033.4,256.5" fill="none" stroke="#0e1233" stroke-width="3.2" stroke-linejoin="round" stroke-linecap="round" />
<polygon points="1004,243.5 1009,234.5 1020.5,234.5 1025.4,243.5 1020.5,252.3 1009,252.3" fill="#0e1233" stroke="#0e1233" stroke-width="1" stroke-linejoin="round" stroke-linecap="round" />
<polyline points="1014.7,250 1014.7,256" fill="none" stroke="#0e1233" stroke-width="7" stroke-linejoin="round" stroke-linecap="round" />
<polyline points="982,248 988,247" fill="none" stroke="#26306a" stroke-width="1.5" stroke-linejoin="round" stroke-linecap="round" />
<polyline points="993,246.5 998,246" fill="none" stroke="#26306a" stroke-width="1.5" stroke-linejoin="round" stroke-linecap="round" />
<polyline points="1033,246.4 1052,250.3" fill="none" stroke="#26306a" stroke-width="1.5" stroke-linejoin="round" stroke-linecap="round" />
<path d="M890,278 C888.8,281.2 885.7,290.5 882.5,297.5 C879.3,304.5 873.7,312.6 870.6,320 C867.5,327.4 865.5,334.6 863.8,342 C862.1,349.4 861.3,356.8 860.6,364.5 C859.9,372.2 859.6,380.4 859.6,388 C859.6,395.6 859.8,402.5 860.4,410 C861,417.5 861.8,425.4 863.4,433 C865,440.6 867.7,449.7 869.8,455.5 C871.9,461.3 875,465.9 876,468" fill="none" stroke="#0e1233" stroke-width="4.6" stroke-linejoin="round" stroke-linecap="round" />
<path d="M1136.5,280 C1137.8,283.2 1140.7,292.3 1144,299 C1147.3,305.7 1153,312.5 1156.2,320 C1159.5,327.5 1161.8,336 1163.5,343.8 C1165.2,351.6 1166,359.6 1166.6,367 C1167.2,374.4 1167.3,380.7 1167.3,388 C1167.3,395.3 1167.5,403.2 1166.6,410.8 C1165.7,418.4 1163.3,426.1 1161.8,433.4 C1160.3,440.7 1159.3,448.6 1157.4,454.4 C1155.5,460.2 1153.1,463.4 1150.5,468 C1147.9,472.6 1143.4,479.7 1142,482" fill="none" stroke="#0e1233" stroke-width="4.6" stroke-linejoin="round" stroke-linecap="round" />
<line x1="881.5" y1="297.5" x2="921.6" y2="297.5" stroke="#0e1233" stroke-width="5" stroke-linecap="butt" />
<line x1="876" y1="297.8" x2="882.5" y2="297.5" stroke="#0e1233" stroke-width="1.7" stroke-linecap="butt" />
<line x1="869.6" y1="320" x2="904.4" y2="320" stroke="#0e1233" stroke-width="5" stroke-linecap="butt" />
<line x1="864.1" y1="320.3" x2="870.6" y2="320" stroke="#0e1233" stroke-width="1.7" stroke-linecap="butt" />
<line x1="862.8" y1="342" x2="893.7" y2="342" stroke="#0e1233" stroke-width="5" stroke-linecap="butt" />
<line x1="857.3" y1="342.3" x2="863.8" y2="342" stroke="#0e1233" stroke-width="1.7" stroke-linecap="butt" />
<line x1="859.6" y1="364.5" x2="887.5" y2="364.5" stroke="#0e1233" stroke-width="5" stroke-linecap="butt" />
<line x1="854.1" y1="364.8" x2="860.6" y2="364.5" stroke="#0e1233" stroke-width="1.7" stroke-linecap="butt" />
<line x1="859.4" y1="410" x2="887.1" y2="410" stroke="#0e1233" stroke-width="5" stroke-linecap="butt" />
<line x1="853.9" y1="410.3" x2="860.4" y2="410" stroke="#0e1233" stroke-width="1.7" stroke-linecap="butt" />
<line x1="862.4" y1="433" x2="893.2" y2="433" stroke="#0e1233" stroke-width="5" stroke-linecap="butt" />
<line x1="856.9" y1="433.3" x2="863.4" y2="433" stroke="#0e1233" stroke-width="1.7" stroke-linecap="butt" />
<line x1="868.8" y1="455.5" x2="903.8" y2="455.5" stroke="#0e1233" stroke-width="5" stroke-linecap="butt" />
<line x1="863.3" y1="455.8" x2="869.8" y2="455.5" stroke="#0e1233" stroke-width="1.7" stroke-linecap="butt" />
<line x1="1106.8" y1="299" x2="1145" y2="299" stroke="#0e1233" stroke-width="5" stroke-linecap="butt" />
<line x1="1144" y1="299" x2="1150.5" y2="298.7" stroke="#0e1233" stroke-width="1.7" stroke-linecap="butt" />
<line x1="1122.6" y1="320" x2="1157.2" y2="320" stroke="#0e1233" stroke-width="5" stroke-linecap="butt" />
<line x1="1156.2" y1="320" x2="1162.7" y2="319.7" stroke="#0e1233" stroke-width="1.7" stroke-linecap="butt" />
<line x1="1134" y1="343.8" x2="1164.5" y2="343.8" stroke="#0e1233" stroke-width="5" stroke-linecap="butt" />
<line x1="1163.5" y1="343.8" x2="1170" y2="343.5" stroke="#0e1233" stroke-width="1.7" stroke-linecap="butt" />
<line x1="1140" y1="367" x2="1167.6" y2="367" stroke="#0e1233" stroke-width="5" stroke-linecap="butt" />
<line x1="1166.6" y1="367" x2="1173.1" y2="366.7" stroke="#0e1233" stroke-width="1.7" stroke-linecap="butt" />
<line x1="1139.7" y1="410.8" x2="1167.6" y2="410.8" stroke="#0e1233" stroke-width="5" stroke-linecap="butt" />
<line x1="1166.6" y1="410.8" x2="1173.1" y2="410.5" stroke="#0e1233" stroke-width="1.7" stroke-linecap="butt" />
<line x1="1133.7" y1="433.4" x2="1162.8" y2="433.4" stroke="#0e1233" stroke-width="5" stroke-linecap="butt" />
<line x1="1161.8" y1="433.4" x2="1168.3" y2="433.1" stroke="#0e1233" stroke-width="1.7" stroke-linecap="butt" />
<line x1="1123.8" y1="454.4" x2="1158.4" y2="454.4" stroke="#0e1233" stroke-width="5" stroke-linecap="butt" />
<line x1="1157.4" y1="454.4" x2="1163.9" y2="454.1" stroke="#0e1233" stroke-width="1.7" stroke-linecap="butt" />
<rect x="890.5" y="278.8" width="32" height="18.7" rx="0" fill="none" stroke="#0e1233" stroke-width="3"/>
<line x1="926" y1="246" x2="926" y2="283" stroke="#0e1233" stroke-width="5" stroke-linecap="round" />
<line x1="926" y1="240.5" x2="926" y2="247" stroke="#0e1233" stroke-width="2" stroke-linecap="round" />
<polyline points="904,278 925,257.5" fill="none" stroke="#0e1233" stroke-width="3.4" stroke-linejoin="round" stroke-linecap="round" />
<polyline points="912,278 925,264" fill="none" stroke="#0e1233" stroke-width="2.2" stroke-linejoin="round" stroke-linecap="round" />
<line x1="881" y1="297.5" x2="922" y2="297.5" stroke="#0e1233" stroke-width="3.4" stroke-linecap="butt" />
<line x1="890.5" y1="297" x2="890.5" y2="319" stroke="#0e1233" stroke-width="2.2" stroke-linecap="butt" />
<line x1="869" y1="297.5" x2="878" y2="297.5" stroke="#2a3468" stroke-width="1.2" stroke-linecap="butt" />
<rect x="1105.8" y="280" width="31" height="17.3" rx="0" fill="none" stroke="#0e1233" stroke-width="3"/>
<line x1="1102.5" y1="251" x2="1102.5" y2="286" stroke="#0e1233" stroke-width="5" stroke-linecap="round" />
<line x1="1102.5" y1="245" x2="1102.5" y2="252" stroke="#0e1233" stroke-width="2" stroke-linecap="round" />
<polyline points="1104,264 1125,280" fill="none" stroke="#0e1233" stroke-width="3.4" stroke-linejoin="round" stroke-linecap="round" />
<polyline points="1104,271 1117,280" fill="none" stroke="#0e1233" stroke-width="2.2" stroke-linejoin="round" stroke-linecap="round" />
<line x1="1136.5" y1="297" x2="1136.5" y2="319" stroke="#0e1233" stroke-width="2.2" stroke-linecap="butt" />
<rect x="861" y="366" width="23" height="8.5" fill="#0e1233"/>
<rect x="864.5" y="368.6" width="7" height="2.4" fill="#0e1233"/>
<rect x="864.5" y="368.8" width="7" height="2.4" fill="#fff"/>
<rect x="861" y="401.5" width="23" height="8.5" fill="#0e1233"/>
<rect x="864.5" y="404.4" width="7" height="2.4" fill="#fff"/>
<circle cx="871.8" cy="388.2" r="9.4" fill="#0e1233" stroke="none" stroke-width="0"/>
<path d="M859,378.6 H853 Q849.3,378.6 849.3,383 V393.5 Q849.3,397.6 853,397.6 H859" fill="none" stroke="#0e1233" stroke-width="2.6" stroke-linejoin="round" stroke-linecap="round" />
<line x1="845" y1="388.2" x2="881" y2="388.2" stroke="#26306a" stroke-width="1.4" stroke-linecap="butt" />
<polyline points="873,377 882,380" fill="none" stroke="#0e1233" stroke-width="2.4" stroke-linejoin="round" stroke-linecap="round" />
<polyline points="873,399.5 882,396.5" fill="none" stroke="#0e1233" stroke-width="2.4" stroke-linejoin="round" stroke-linecap="round" />
<circle cx="1153.5" cy="388.5" r="9.2" fill="#0e1233" stroke="none" stroke-width="0"/>
<rect x="1167.5" y="379.6" width="8.6" height="19" rx="3" fill="#0e1233" stroke="#0e1233" stroke-width="1.2"/>
<rect x="1158" y="385.5" width="11" height="6" fill="#0e1233"/>
<polyline points="1146,377 1160,372" fill="none" stroke="#0e1233" stroke-width="2.5" stroke-linejoin="round" stroke-linecap="round" />
<polyline points="1146,399 1160,404.5" fill="none" stroke="#0e1233" stroke-width="2.5" stroke-linejoin="round" stroke-linecap="round" />
<path d="M1146,374 Q1153,370 1161,374" fill="none" stroke="#0e1233" stroke-width="2" stroke-linejoin="round" stroke-linecap="round" />
<path d="M1146,403 Q1153,407 1161,403" fill="none" stroke="#0e1233" stroke-width="2" stroke-linejoin="round" stroke-linecap="round" />
<path d="M946,531.5 C947.9,532 953.5,533.4 957.2,534.6 C960.9,535.8 964.2,537.6 968.3,538.8 C972.4,540 977.9,541.1 981.6,541.8 C985.3,542.5 985,542.6 990.4,543 C995.8,543.4 1006.3,544 1013.7,544 C1021.1,544 1029.4,543.7 1034.8,543.3 C1040.2,542.9 1042.2,542.5 1045.9,541.8 C1049.6,541 1053.3,539.9 1057,538.8 C1060.7,537.7 1064.3,536.2 1068,535 C1071.7,533.8 1075.7,533.6 1079,531.8 C1082.3,530 1086.5,525.3 1088,524" fill="none" stroke="#0e1233" stroke-width="7.6" stroke-linejoin="round" stroke-linecap="round" />
<polyline points="1084.6,503.8 1080.6,506.2 1076.5,508.5 1072.3,510.7 1068.1,512.7 1063.8,514.5 1059.4,516.2 1055,517.8 1050.5,519.2 1046,520.4 1041.4,521.5 1036.8,522.4 1032.2,523.1 1027.5,523.7 1022.9,524.1 1018.2,524.4 1013.5,524.5 1008.8,524.4 1004.1,524.1 999.5,523.7 994.8,523.1 990.2,522.4 985.6,521.5 981,520.4 976.5,519.2 972,517.8 967.6,516.2 963.2,514.5 958.9,512.7 954.7,510.7 950.5,508.5 946.4,506.2 942.4,503.8" fill="none" stroke="#0e1233" stroke-width="5.4" stroke-linecap="butt"/>
<line x1="947.6" y1="502.4" x2="947.6" y2="532.8" stroke="#0e1233" stroke-width="6" stroke-linecap="butt" />
<line x1="947.6" y1="534.8" x2="947.9" y2="540.8" stroke="#0e1233" stroke-width="1.8" stroke-linecap="butt" />
<line x1="969.3" y1="512.5" x2="969.3" y2="539.5" stroke="#0e1233" stroke-width="6" stroke-linecap="butt" />
<line x1="969.3" y1="541.5" x2="969.6" y2="547.5" stroke="#0e1233" stroke-width="1.8" stroke-linecap="butt" />
<line x1="993.5" y1="518.7" x2="993.5" y2="543.9" stroke="#0e1233" stroke-width="6" stroke-linecap="butt" />
<line x1="993.5" y1="545.9" x2="993.8" y2="551.9" stroke="#0e1233" stroke-width="1.8" stroke-linecap="butt" />
<line x1="1034.5" y1="518.5" x2="1034.5" y2="543.8" stroke="#0e1233" stroke-width="6" stroke-linecap="butt" />
<line x1="1034.5" y1="545.8" x2="1034.8" y2="551.8" stroke="#0e1233" stroke-width="1.8" stroke-linecap="butt" />
<line x1="1058.6" y1="512.2" x2="1058.6" y2="539.4" stroke="#0e1233" stroke-width="6" stroke-linecap="butt" />
<line x1="1058.6" y1="541.4" x2="1058.9" y2="547.4" stroke="#0e1233" stroke-width="1.8" stroke-linecap="butt" />
<line x1="1080.6" y1="501.7" x2="1080.6" y2="532.5" stroke="#0e1233" stroke-width="6" stroke-linecap="butt" />
<line x1="1080.6" y1="534.5" x2="1080.9" y2="540.5" stroke="#0e1233" stroke-width="1.8" stroke-linecap="butt" />
<line x1="1013.8" y1="546" x2="1013.8" y2="552" stroke="#0e1233" stroke-width="1.8" stroke-linecap="butt" />
<rect x="996" y="521" width="35.5" height="20" fill="#0e1233"/>
<circle cx="1013.3" cy="532" r="9.6" fill="#0e1233" stroke="none" stroke-width="0"/>
<polygon points="997.3,537.5 999.8,528 1001.8,537.5" fill="#fff" stroke="#fff" stroke-width="0.4" stroke-linejoin="round" stroke-linecap="round" />
<polygon points="1002.8,524 999.3,524 1001.3,529" fill="#fff" stroke="#fff" stroke-width="0.4" stroke-linejoin="round" stroke-linecap="round" />
<polygon points="1029.3,537.5 1026.8,528 1024.8,537.5" fill="#fff" stroke="#fff" stroke-width="0.4" stroke-linejoin="round" stroke-linecap="round" />
<polygon points="1023.8,524 1027.3,524 1025.3,529" fill="#fff" stroke="#fff" stroke-width="0.4" stroke-linejoin="round" stroke-linecap="round" />
<line x1="977" y1="528.6" x2="984" y2="529.6" stroke="#0e1233" stroke-width="1.6" stroke-linecap="butt" />
<line x1="1043" y1="529.6" x2="1050" y2="528.6" stroke="#0e1233" stroke-width="1.6" stroke-linecap="butt" />
<line x1="1108.6" y1="476.8" x2="1144" y2="476.8" stroke="#0e1233" stroke-width="3.6" stroke-linecap="butt" />
<line x1="1137" y1="457" x2="1137" y2="498" stroke="#0e1233" stroke-width="3" stroke-linecap="butt" />
<polyline points="1137,497 1122,500.5 1124,505.5 1126.5,506.5" fill="none" stroke="#0e1233" stroke-width="2.6" stroke-linejoin="round" stroke-linecap="round" />
<polyline points="1108,484 1136,482" fill="none" stroke="#0e1233" stroke-width="2.6" stroke-linejoin="round" stroke-linecap="round" />
<polyline points="1108,484 1130,493" fill="none" stroke="#0e1233" stroke-width="2.6" stroke-linejoin="round" stroke-linecap="round" />
<polyline points="1108,484 1122,500" fill="none" stroke="#0e1233" stroke-width="2.6" stroke-linejoin="round" stroke-linecap="round" />
<polyline points="1108,484 1112,507" fill="none" stroke="#0e1233" stroke-width="2.6" stroke-linejoin="round" stroke-linecap="round" />
<polyline points="1108,484 1104,512" fill="none" stroke="#0e1233" stroke-width="2.6" stroke-linejoin="round" stroke-linecap="round" />
<polyline points="1097,492 1100,514" fill="none" stroke="#0e1233" stroke-width="3.2" stroke-linejoin="round" stroke-linecap="round" />
<polyline points="1084,513 1121,513 1121,501" fill="none" stroke="#0e1233" stroke-width="2.6" stroke-linejoin="round" stroke-linecap="round" />
<polyline points="1081,504 1090,498" fill="none" stroke="#0e1233" stroke-width="3" stroke-linejoin="round" stroke-linecap="round" />
<path d="M1091,514 V549.8 H1172 V531 Q1172,528 1168,526 L1127,506.5" fill="none" stroke="#0e1233" stroke-width="3.2" stroke-linejoin="round" stroke-linecap="round" />
<line x1="1102" y1="514" x2="1102" y2="549" stroke="#0e1233" stroke-width="2.8" stroke-linecap="butt" />
<line x1="1102" y1="530" x2="1167" y2="530" stroke="#0e1233" stroke-width="3" stroke-linecap="butt" />
<line x1="1109" y1="514" x2="1109" y2="529" stroke="#0e1233" stroke-width="2.4" stroke-linecap="butt" />
<polyline points="900.9,456.8 903.3,460.7 905.9,464.5 908.6,468.3 911.4,471.9 914.3,475.5 917.4,479 920.6,482.3 923.9,485.5 927.3,488.6 930.8,491.6 934.4,494.5 938.1,497.2 941.9,499.8 942.9,500.4" fill="none" stroke="#fff" stroke-width="10" stroke-linecap="butt" stroke-linejoin="round"/>
<clipPath id="h3"><polygon points="889,457.5 906.1,457.5 906.1,456.2 908.5,459.9 911.1,463.6 913.7,467.2 916.5,470.7 919.4,474 922.4,477.3 925.6,480.5 928.8,483.5 932.1,486.5 935.6,489.3 939.1,492 942.7,494.5 946.4,497 950.2,499.3 951,512 925.5,512 925.5,496 908.5,489 908.5,478 889,478"/></clipPath>
<g clip-path="url(#h3)"><line x1="852" y1="520" x2="904" y2="450" stroke="#0e1233" stroke-width="1.5"/><line x1="858.2" y1="520" x2="910.2" y2="450" stroke="#0e1233" stroke-width="1.5"/><line x1="864.4" y1="520" x2="916.4" y2="450" stroke="#0e1233" stroke-width="1.5"/><line x1="870.6" y1="520" x2="922.6" y2="450" stroke="#0e1233" stroke-width="1.5"/><line x1="876.8" y1="520" x2="928.8" y2="450" stroke="#0e1233" stroke-width="1.5"/><line x1="883" y1="520" x2="935" y2="450" stroke="#0e1233" stroke-width="1.5"/><line x1="889.2" y1="520" x2="941.2" y2="450" stroke="#0e1233" stroke-width="1.5"/><line x1="895.4" y1="520" x2="947.4" y2="450" stroke="#0e1233" stroke-width="1.5"/><line x1="901.6" y1="520" x2="953.6" y2="450" stroke="#0e1233" stroke-width="1.5"/><line x1="907.8" y1="520" x2="959.8" y2="450" stroke="#0e1233" stroke-width="1.5"/><line x1="914" y1="520" x2="966" y2="450" stroke="#0e1233" stroke-width="1.5"/><line x1="920.2" y1="520" x2="972.2" y2="450" stroke="#0e1233" stroke-width="1.5"/><line x1="926.4" y1="520" x2="978.4" y2="450" stroke="#0e1233" stroke-width="1.5"/><line x1="932.6" y1="520" x2="984.6" y2="450" stroke="#0e1233" stroke-width="1.5"/><line x1="938.8" y1="520" x2="990.8" y2="450" stroke="#0e1233" stroke-width="1.5"/><line x1="945" y1="520" x2="997" y2="450" stroke="#0e1233" stroke-width="1.5"/><line x1="951.2" y1="520" x2="1003.2" y2="450" stroke="#0e1233" stroke-width="1.5"/><line x1="957.4" y1="520" x2="1009.4" y2="450" stroke="#0e1233" stroke-width="1.5"/><line x1="963.6" y1="520" x2="1015.6" y2="450" stroke="#0e1233" stroke-width="1.5"/><line x1="969.8" y1="520" x2="1021.8" y2="450" stroke="#0e1233" stroke-width="1.5"/><line x1="976" y1="520" x2="1028" y2="450" stroke="#0e1233" stroke-width="1.5"/><line x1="982.2" y1="520" x2="1034.2" y2="450" stroke="#0e1233" stroke-width="1.5"/></g>
<polyline points="876,457 886.5,483" fill="none" stroke="#0e1233" stroke-width="3.4" stroke-linejoin="round" stroke-linecap="round" />
<line x1="889" y1="455.5" x2="889" y2="499" stroke="#0e1233" stroke-width="3" stroke-linecap="butt" />
<rect x="889.5" y="478" width="19" height="10.5" rx="0" fill="#fff" stroke="#0e1233" stroke-width="2.6"/>
<line x1="890" y1="481.6" x2="908" y2="481.6" stroke="#0e1233" stroke-width="1.8" stroke-linecap="butt" />
<line x1="890" y1="485" x2="908" y2="485" stroke="#0e1233" stroke-width="1.8" stroke-linecap="butt" />
<clipPath id="h4"><rect x="889" y="489" width="26" height="9.5"/></clipPath>
<g clip-path="url(#h4)"><line x1="880" y1="500" x2="890" y2="487" stroke="#0e1233" stroke-width="2.6"/><line x1="885" y1="500" x2="895" y2="487" stroke="#0e1233" stroke-width="2.6"/><line x1="890" y1="500" x2="900" y2="487" stroke="#0e1233" stroke-width="2.6"/><line x1="895" y1="500" x2="905" y2="487" stroke="#0e1233" stroke-width="2.6"/><line x1="900" y1="500" x2="910" y2="487" stroke="#0e1233" stroke-width="2.6"/><line x1="905" y1="500" x2="915" y2="487" stroke="#0e1233" stroke-width="2.6"/><line x1="910" y1="500" x2="920" y2="487" stroke="#0e1233" stroke-width="2.6"/><line x1="915" y1="500" x2="925" y2="487" stroke="#0e1233" stroke-width="2.6"/><line x1="920" y1="500" x2="930" y2="487" stroke="#0e1233" stroke-width="2.6"/></g>
<polyline points="889,499 903,499 897.5,505" fill="none" stroke="#0e1233" stroke-width="3" stroke-linejoin="round" stroke-linecap="round" />
<rect x="908" y="476" width="8" height="20" fill="#0e1233"/>
<rect x="915.5" y="495" width="9.5" height="33" rx="0" fill="#fff" stroke="#0e1233" stroke-width="2.8"/>
<line x1="920.3" y1="497" x2="920.3" y2="526" stroke="#2a3468" stroke-width="1.3" stroke-linecap="butt" />
<rect x="912" y="487" width="16" height="9" fill="#0e1233"/>
<rect x="925" y="512" width="25" height="4.5" fill="#0e1233"/>
<rect x="930" y="517" width="7" height="12" rx="0" fill="none" stroke="#0e1233" stroke-width="2.4"/>
<line x1="944" y1="516" x2="944" y2="531" stroke="#0e1233" stroke-width="3" stroke-linecap="butt" />
<path d="M852.5,552 V531.5 L897.5,505.5" fill="none" stroke="#0e1233" stroke-width="3.2" stroke-linejoin="round" stroke-linecap="round" />
<path d="M856.5,548 V536 L890,517 L898,531 V547 H903 V536" fill="none" stroke="#0e1233" stroke-width="2.6" stroke-linejoin="round" stroke-linecap="round" />
<path d="M852.5,545.5 H863 V538" fill="none" stroke="#0e1233" stroke-width="2.4" stroke-linejoin="round" stroke-linecap="round" />
<polyline points="860,533 892,514.5" fill="none" stroke="#0e1233" stroke-width="1.4" stroke-linejoin="round" stroke-linecap="round" />
<line x1="866" y1="531" x2="868" y2="527.5" stroke="#fff" stroke-width="1.6" stroke-linecap="butt" />
<line x1="871" y1="528.1" x2="873" y2="524.6" stroke="#fff" stroke-width="1.6" stroke-linecap="butt" />
<line x1="876" y1="525.2" x2="878" y2="521.7" stroke="#fff" stroke-width="1.6" stroke-linecap="butt" />
<line x1="881" y1="522.3" x2="883" y2="518.8" stroke="#fff" stroke-width="1.6" stroke-linecap="butt" />
<line x1="886" y1="519.4" x2="888" y2="515.9" stroke="#fff" stroke-width="1.6" stroke-linecap="butt" />
<line x1="891" y1="516.5" x2="893" y2="513" stroke="#fff" stroke-width="1.6" stroke-linecap="butt" />
<clipPath id="h5"><path d="M886,519 L903,508 L915,515 L915,529 L899,529 Z"/></clipPath>
<g clip-path="url(#h5)"><line x1="880" y1="508" x2="898" y2="531" stroke="#0e1233" stroke-width="1.5"/><line x1="884.6" y1="508" x2="902.6" y2="531" stroke="#0e1233" stroke-width="1.5"/><line x1="889.2" y1="508" x2="907.2" y2="531" stroke="#0e1233" stroke-width="1.5"/><line x1="893.8" y1="508" x2="911.8" y2="531" stroke="#0e1233" stroke-width="1.5"/><line x1="898.4" y1="508" x2="916.4" y2="531" stroke="#0e1233" stroke-width="1.5"/><line x1="903" y1="508" x2="921" y2="531" stroke="#0e1233" stroke-width="1.5"/><line x1="907.6" y1="508" x2="925.6" y2="531" stroke="#0e1233" stroke-width="1.5"/><line x1="912.2" y1="508" x2="930.2" y2="531" stroke="#0e1233" stroke-width="1.5"/><line x1="916.8" y1="508" x2="934.8" y2="531" stroke="#0e1233" stroke-width="1.5"/></g>
<polyline points="898,530.5 936.5,530.5" fill="none" stroke="#0e1233" stroke-width="3" stroke-linejoin="round" stroke-linecap="round" />
<line x1="936.2" y1="514" x2="936.2" y2="552" stroke="#0e1233" stroke-width="3.2" stroke-linecap="butt" />
<rect x="852" y="549.2" width="85" height="4" fill="#0e1233"/>
<rect x="911" y="532.5" width="22" height="12.5" rx="0" fill="none" stroke="#0e1233" stroke-width="2.6"/>
<rect x="915" y="536.5" width="5.5" height="5.5" rx="0" fill="none" stroke="#0e1233" stroke-width="1.6"/>
<rect x="922" y="536.5" width="5.5" height="5.5" rx="0" fill="none" stroke="#0e1233" stroke-width="1.6"/>
<line x1="905" y1="531" x2="905" y2="548" stroke="#0e1233" stroke-width="2.6" stroke-linecap="butt" />
<path d="M1015.1,218 L1015,236 M1014.9,256 L1014.7,320 M1014.7,324 L1014.6,328 M1014.1,448 L1014.1,452 M1014.1,457 L1013.9,505 M1013.9,510 L1013.9,514 M1013.7,552 L1013.5,599" fill="none" stroke="#2a3468" stroke-width="1.3"/>
<path d="M1014.6,333 L1014.5,364 M1014.4,376 L1014.3,400 M1014.3,406 L1014.2,444" fill="none" stroke="#7c89c6" stroke-width="1.2"/>
<path d="M893,388.3 H916 M920,388.3 H925 M929,388.3 H985 M1003.5,388.4 H1062 M1069,388.4 H1072" fill="none" stroke="#0e1233" stroke-width="1.7"/>
<line x1="1080" y1="388.3" x2="1222" y2="388.3" stroke="#0e1233" stroke-width="1.8" stroke-linecap="butt" />
<polyline points="1138,105.4 1260,105.6" fill="none" stroke="#2a3468" stroke-width="1.2" stroke-linejoin="round" stroke-linecap="round" />
<polyline points="1248.3,105.5 1248.6,549.8" fill="none" stroke="#2a3468" stroke-width="1.2" stroke-linejoin="round" stroke-linecap="round" />
<polygon points="1248.3,105.6 1246.5,118.8 1246.1,127.2 1248.3,129.6 1250.5,127.2 1250.1,118.8" fill="#0e1233"/>
<polygon points="1248.6,549.8 1250.4,536 1250.8,527.3 1248.6,524.8 1246.4,527.3 1246.8,536" fill="#0e1233"/>
<g transform="translate(1208.2,338.6) rotate(-90)" fill="none" stroke="#0e1233" stroke-width="2.4" stroke-linecap="butt" stroke-linejoin="round"><path transform="translate(0,0)" d="M0,26 L7.8,0 L15.6,26 M2.7,18.2 H12.9"/><path transform="translate(20.2,0)" d="M0,0 V26 H4.5 C10.4,26 13,23.4 13,18.2 V7.8 C13,2.6 10.4,0 4.5,0 Z"/></g>
<polyline points="1172,549.8 1262,549.8" fill="none" stroke="#0e1233" stroke-width="1.4" stroke-linejoin="round" stroke-linecap="round" />
<polyline points="1209.3,388.5 1209.6,549.8" fill="none" stroke="#2a3468" stroke-width="1.2" stroke-linejoin="round" stroke-linecap="round" />
<polygon points="1209.3,388.5 1207.5,401.7 1207.1,410.1 1209.3,412.5 1211.5,410.1 1211.1,401.7" fill="#0e1233"/>
<polygon points="1209.6,549.8 1211.4,536 1211.8,527.3 1209.6,524.8 1207.4,527.3 1207.8,536" fill="#0e1233"/>
<g transform="translate(1170.2,474) rotate(-90)" fill="none" stroke="#0e1233" stroke-width="2.4" stroke-linecap="butt" stroke-linejoin="round"><path transform="translate(0,0)" d="M0,0 V24.6 M11.8,0 V24.6 M0,11.8 H11.8"/></g>
<polyline points="853,552 852.8,711" fill="none" stroke="#2a3468" stroke-width="1.2" stroke-linejoin="round" stroke-linecap="round" />
<polyline points="888.5,530 888,656" fill="none" stroke="#2a3468" stroke-width="1.2" stroke-linejoin="round" stroke-linecap="round" />
<polyline points="1137,541 1137.4,655" fill="none" stroke="#2a3468" stroke-width="1.2" stroke-linejoin="round" stroke-linecap="round" />
<polyline points="1171.3,550 1172.3,707" fill="none" stroke="#2a3468" stroke-width="1.2" stroke-linejoin="round" stroke-linecap="round" />
<polyline points="888,590.8 1013.5,590.4" fill="none" stroke="#2a3468" stroke-width="1.2" stroke-linejoin="round" stroke-linecap="round" />
<polygon points="888.5,590.8 901.7,592.6 910.1,593 912.5,590.8 910.1,588.6 901.7,589" fill="#0e1233"/>
<polygon points="1013.3,590.4 1000.1,588.6 991.7,588.2 989.3,590.4 991.7,592.6 1000.1,592.2" fill="#0e1233"/>
<polyline points="888,644.4 1137.4,642.3" fill="none" stroke="#2a3468" stroke-width="1.2" stroke-linejoin="round" stroke-linecap="round" />
<polygon points="888.5,644.4 901.7,646.1 910.1,646.4 912.5,644.2 910.1,642 901.7,642.4" fill="#0e1233"/>
<polygon points="1137,642.3 1123.8,640.6 1115.4,640.3 1113,642.5 1115.4,644.7 1123.8,644.3" fill="#0e1233"/>
<polyline points="853,697.8 1172.3,695" fill="none" stroke="#2a3468" stroke-width="1.2" stroke-linejoin="round" stroke-linecap="round" />
<polygon points="853.3,697.8 867.1,699.5 875.8,699.8 878.3,697.6 875.8,695.4 867,695.8" fill="#0e1233"/>
<polygon points="1172,695 1158.2,693.3 1149.5,693 1147,695.2 1149.5,697.4 1158.3,697" fill="#0e1233"/>
<g transform="translate(932.7,555.2)" fill="none" stroke="#0e1233" stroke-width="2.3" stroke-linecap="butt" stroke-linejoin="round"><path transform="translate(0,0)" d="M0,27 L7.8,0 L15.6,27 M2.7,18.9 H12.9"/></g>
<line x1="961.2" y1="549.5" x2="950.6" y2="590.3" stroke="#0e1233" stroke-width="2.1" stroke-linecap="butt" />
<g transform="translate(964.9,555.6)" fill="none" stroke="#0e1233" stroke-width="2.3" stroke-linecap="butt" stroke-linejoin="round"><path transform="translate(0,0)" d="M0,5.9 C0,2.1 2.2,0 5.4,0 C8.9,0 10.8,2.1 10.8,6.7 C10.8,12 6.5,16.5 0,26.6 H10.8"/></g>
<g transform="translate(1008.7,604.4)" fill="none" stroke="#0e1233" stroke-width="2.3" stroke-linecap="butt" stroke-linejoin="round"><path transform="translate(0,0)" d="M0,26.2 L7.6,0 L15.2,26.2 M2.6,18.3 H12.6"/></g>
<g transform="translate(1002,656)" fill="none" stroke="#0e1233" stroke-width="2.4" stroke-linecap="butt" stroke-linejoin="round"><path transform="translate(0,0)" d="M0,27 L7.8,0 L15.6,27 M2.7,18.9 H12.9"/><path transform="translate(17.9,0)" d="M0,27 L7.8,0 L15.6,27 M2.7,18.9 H12.9"/></g>
</g>
<defs><filter id="soft" x="0" y="0" width="1445" height="974" filterUnits="userSpaceOnUse"><feGaussianBlur stdDeviation="0.5"/></filter></defs>
<g font-family="Liberation Sans, sans-serif" font-weight="bold" font-size="79.5" fill="#0c0c26" stroke="#0c0c26" stroke-width="1.2" stroke-linejoin="round">
<text transform="translate(696.4,884) scale(0.79,1)" x="0" y="0">B</text>
<text transform="translate(748.1,884) scale(0.83,1)" x="0" y="0">3</text>
</g>
</svg>
</body></html>
